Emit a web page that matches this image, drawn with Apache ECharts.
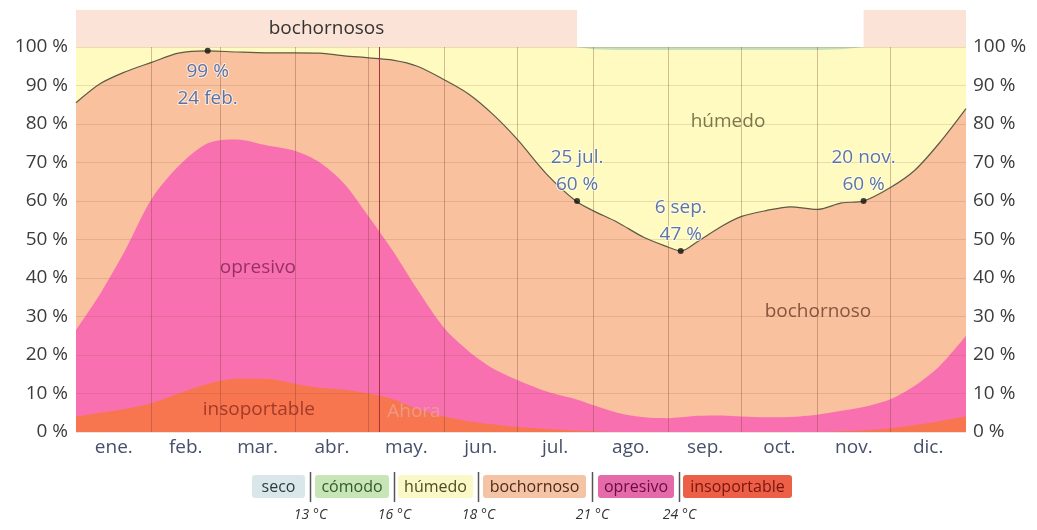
<!DOCTYPE html>
<html>
<head>
<meta charset="utf-8">
<script src="https://cdn.jsdelivr.net/npm/echarts@6/dist/echarts.min.js"></script>
<style>
  html, body { margin: 0; padding: 0; background: #fff; }
  #chart { width: 1037px; height: 530px; }
</style>
</head>
<body>
<div id="chart"></div>
<script>
// dia del año (0 = 1 ene., 365 = 31 dic.)
const days = [0, 10, 20, 31, 42, 54, 66, 78, 90, 100, 110, 120, 130, 140, 151, 161, 171, 181, 193, 205, 212, 222, 233, 243, 248, 255, 265, 273, 283, 293, 304, 314, 323, 334, 344, 354, 365]
// límites superiores (acumulados, %) de cada nivel de humedad
const bochornosoTop = [85.5, 90.5, 93.5, 96, 98.4, 99, 98.7, 98.5, 98.5, 98.4, 97.7, 97.2, 96.6, 95, 91.5, 87.8, 82.5, 76, 67, 60, 57.5, 54.5, 50.5, 48, 47, 49.5, 53.5, 56, 57.5, 58.5, 57.8, 59.5, 60, 63.5, 68, 75, 84]
const opresivoTop = [26.5, 36, 47, 60.5, 69, 75, 76, 74.5, 73, 70, 64.5, 56, 47, 37, 27, 21, 16.5, 13.5, 10.5, 8.5, 7, 5, 3.8, 3.6, 3.8, 4.2, 4.3, 4, 3.8, 3.9, 4.5, 5.5, 6.5, 8.5, 12, 17, 25]
const insoportableTop = [4, 5, 6, 7.5, 10, 12.5, 13.8, 13.8, 12.5, 11.5, 11, 10, 8.5, 6, 4, 2.8, 2, 1.3, 0.8, 0.4, 0.2, 0, 0, 0, 0, 0, 0, 0, 0, 0, 0, 0.2, 0.4, 1, 1.8, 2.8, 4]
// franja fina de cómodo arriba del todo
const comodo = [0, 0, 0, 0, 0, 0, 0, 0, 0, 0, 0, 0, 0, 0, 0, 0, 0, 0, 0, 0, 0.6, 0.8, 0.8, 0.8, 0.8, 0.8, 0.8, 0.8, 0.8, 0.8, 0.8, 0.6, 0, 0, 0, 0, 0]

const monthStarts = [0, 31, 59, 90, 120, 151, 181, 212, 243, 273, 304, 334, 365]
const monthNames = ['ene.', 'feb.', 'mar.', 'abr.', 'may.', 'jun.', 'jul.', 'ago.', 'sep.', 'oct.', 'nov.', 'dic.']

// periodos bochornosos (franja de arriba)
const bochornososRanges = [[0, 205.5], [323, 365]]
const nowDay = 124.5

// puntos anotados
const noteDays = [54, 205.5, 248, 323]
const notePcts = [99, 60, 47, 60]
const noteDates = ['24 feb.', '25 jul.', '6 sep.', '20 nov.']

// rótulos dentro de las áreas
const areaLabelNames = ['húmedo', 'bochornoso', 'opresivo', 'insoportable', 'Ahora']
const areaLabelDays = [267.4, 304.3, 74.6, 75, 138.6]
const areaLabelPcts = [80.5, 31.4, 42.6, 5.7, 5.2]
const areaLabelColors = ['#5b5530', '#6a3b25', '#7d1f55', '#8e2a1e', '#eba392']

// leyenda
const legendNames = ['seco', 'cómodo', 'húmedo', 'bochornoso', 'opresivo', 'insoportable']
const legendFill = ['#dae7ea', '#c7e5b6', '#fbf8c8', '#f5c4a7', '#e46aaa', '#ec6047']
const legendInk = ['#2e3a3e', '#2f5a2c', '#4c4a22', '#4d2a18', '#6c0d3c', '#7c1410']
const thresholdLabels = ['13 °C', '16 °C', '18 °C', '21 °C', '24 °C']

const FONT = 'Open Sans'
const monthMid = monthNames.map((m, i) => (monthStarts[i] + monthStarts[i + 1]) / 2)

function area(name, tops, color, smooth) {
  return {
    type: 'line',
    name: name,
    data: days.map((d, i) => [d, tops[i]]),
    smooth: smooth,
    symbol: 'none',
    silent: true,
    z: 2,
    lineStyle: { width: 0 },
    areaStyle: { color: color, opacity: 1 },
  }
}

// leyenda dibujada con graphic
const boxes = [[252, 53], [315, 74], [398, 75], [483, 103], [598, 76], [683, 109]]
const graphics = []
legendNames.forEach((name, i) => {
  const [x, w] = boxes[i]
  graphics.push({
    type: 'rect',
    shape: { x: x, y: 475, width: w, height: 23, r: 3 },
    style: { fill: legendFill[i] },
  })
  graphics.push({
    type: 'text',
    x: x + w / 2,
    y: 487,
    style: {
      text: name, fill: legendInk[i], font: '16px "Open Sans"',
      align: 'center', verticalAlign: 'middle', textAlign: 'center', textVerticalAlign: 'middle',
    },
  })
})
thresholdLabels.forEach((t, i) => {
  const sx = Math.round((boxes[i][0] + boxes[i][1] + boxes[i + 1][0]) / 2) + 0.5
  graphics.push({
    type: 'line',
    shape: { x1: sx, y1: 472, x2: sx, y2: 502 },
    style: { stroke: '#555', lineWidth: 1.5 },
  })
  graphics.push({
    type: 'text',
    x: sx,
    y: 515,
    style: {
      text: t, fill: '#333', font: 'italic 14px "Open Sans"',
      align: 'center', verticalAlign: 'middle', textAlign: 'center', textVerticalAlign: 'middle',
    },
  })
})

const chart = echarts.init(document.getElementById('chart'))

chart.setOption({
  animation: false,
  textStyle: { fontFamily: FONT },
  grid: [
    { left: 76, right: 71, top: 47, bottom: 98, show: true, backgroundColor: '#c4dfb9', borderWidth: 0 },
    { left: 76, right: 71, top: 10, height: 37, show: false },
  ],
  xAxis: [
    {
      type: 'value', gridIndex: 0, min: 0, max: 365,
      axisLine: { show: false }, axisTick: { show: false }, splitLine: { show: false },
      axisLabel: {
        customValues: monthMid,
        formatter: (v) => monthNames[monthMid.indexOf(v)],
        fontSize: 19, color: '#46506a', margin: 6,
      },
    },
    { type: 'value', gridIndex: 1, min: 0, max: 365, show: false },
  ],
  yAxis: [
    {
      type: 'value', gridIndex: 0, min: 0, max: 100, interval: 10, z: 5,
      axisLine: { show: false }, axisTick: { show: false },
      axisLabel: { formatter: '{value} %', fontSize: 19, color: '#3c3c3c', margin: 8 },
      splitLine: { lineStyle: { color: 'rgba(120,80,50,0.16)', width: 1 } },
    },
    {
      type: 'value', gridIndex: 0, min: 0, max: 100, interval: 10, position: 'right',
      axisLine: { show: false }, axisTick: { show: false },
      axisLabel: { formatter: '{value} %', fontSize: 19, color: '#3c3c3c', margin: 7 },
      splitLine: { show: false },
    },
    { type: 'value', gridIndex: 1, min: 0, max: 1, show: false },
  ],
  graphic: graphics,
  series: [
    // húmedo llega hasta 100 % menos la franja de cómodo
    area('húmedo', comodo.map((c) => 100 - c), '#fffabf', false),
    Object.assign(area('bochornoso', bochornosoTop, '#f9c19e', 0.3), {
      lineStyle: { width: 1.2, color: '#5e5a46' },
    }),
    area('opresivo', opresivoTop, '#f970b0', 0.3),
    area('insoportable', insoportableTop, '#f8764f', 0.3),
    // tinte de los periodos bochornosos sobre el gráfico
    {
      type: 'line', data: [], z: 3, silent: true,
      markArea: {
        silent: true,
        itemStyle: { color: 'rgba(245,160,110,0.18)' },
        data: bochornososRanges.map((r) => [{ xAxis: r[0] }, { xAxis: r[1] }]),
      },
    },
    // líneas de los meses
    {
      type: 'line', data: [], z: 4, silent: true,
      markLine: {
        silent: true, symbol: ['none', 'none'], label: { show: false },
        lineStyle: { color: 'rgba(110,60,40,0.32)', width: 1, type: 'solid' },
        data: monthStarts.slice(1, 12).map((d) => ({ xAxis: d })),
      },
    },
    // línea "Ahora"
    {
      type: 'line', data: [], z: 4, silent: true,
      markLine: {
        silent: true, symbol: ['none', 'none'], label: { show: false },
        lineStyle: { color: '#a8323f', width: 1, type: 'solid' },
        data: [{ xAxis: nowDay }],
      },
    },
    // franja superior "bochornosos"
    {
      type: 'line', data: [], xAxisIndex: 1, yAxisIndex: 2, silent: true,
      markArea: {
        silent: true,
        itemStyle: { color: '#fce3d7' },
        label: { show: true, position: 'inside', formatter: '{b}', fontSize: 19, color: '#333', fontFamily: FONT },
        data: bochornososRanges.map((r, i) => [{ xAxis: r[0], name: i === 0 ? 'bochornosos' : '' }, { xAxis: r[1] }]),
      },
    },
    // rótulos de las áreas
    {
      type: 'scatter', z: 9, silent: true, symbolSize: 0,
      data: areaLabelNames.map((n, i) => ({
        value: [areaLabelDays[i], areaLabelPcts[i]],
        label: { show: true, position: 'inside', formatter: n, color: areaLabelColors[i], fontSize: 19, fontFamily: FONT },
      })),
    },
    // puntos anotados
    {
      type: 'scatter', z: 10, silent: true, symbolSize: 6,
      itemStyle: { color: '#111' },
      data: noteDays.map((d, i) => {
        const below = i === 0
        const pct = notePcts[i] + ' %'
        return {
          value: [d, notePcts[i]],
          label: {
            show: true,
            position: below ? 'bottom' : 'top',
            distance: below ? 4 : 0,
            formatter: below ? pct + '\n' + noteDates[i] : noteDates[i] + '\n' + pct,
            color: '#35528e', fontSize: 19, lineHeight: 27, fontFamily: FONT,
            textBorderColor: 'rgba(255,255,255,0.85)', textBorderWidth: 2,
          },
        }
      }),
    },
  ],
})
</script>
</body>
</html>
